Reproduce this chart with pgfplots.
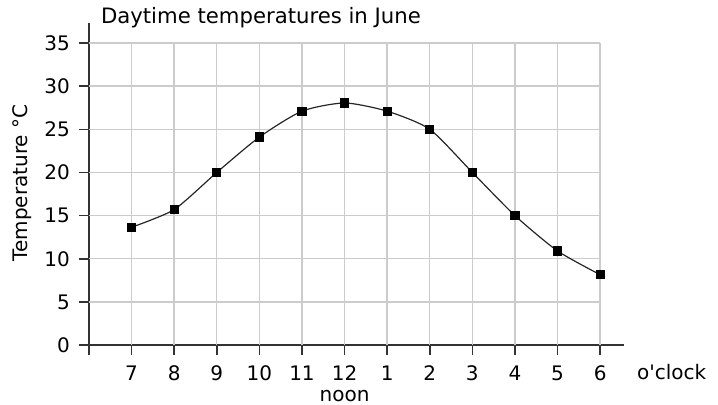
\documentclass[border=0pt]{standalone}
\usepackage{pgfplots}
\pgfplotsset{compat=1.18}
\usepackage{fontspec}
\setmainfont{DejaVu Sans}
\newfontfamily\plainfont{DejaVu Sans}
\definecolor{gridgray}{HTML}{CCCCCC}
\definecolor{axisgray}{HTML}{333333}
\begin{document}
\begin{tikzpicture}[font=\fontsize{10}{12}\selectfont]
\begin{axis}[
  at={(0,0)}, anchor=south west,
  scale only axis,
  width=267.5pt, height=161pt,
  xmin=6, xmax=18.56, ymin=0, ymax=37.32,
  axis lines=left,
  axis line style={axisgray, line width=0.8pt, -},
  xtick={6,...,18},
  xticklabels={,7,8,9,10,11,12,1,2,3,4,5,6},
  ytick={0,5,...,35},
  tick style={axisgray, line width=0.8pt},
  tick align=outside,
  major tick length=5pt,
  /pgf/number format/assume math mode=true,
  xticklabel style={yshift=-2pt},
  yticklabel style={xshift=-1pt},
  clip=false,
]
\pgfplotsinvokeforeach{7,...,18}{
  \draw[gridgray, line width=0.7pt] (axis cs:#1,0) -- (axis cs:#1,35);
}
\pgfplotsinvokeforeach{5,10,...,35}{
  \draw[gridgray, line width=0.7pt] (axis cs:6,#1) -- (axis cs:18,#1);
}
\addplot[black!85, line width=0.6pt, smooth, tension=0.4, mark=square*, mark size=2pt, mark options={black, solid}]
coordinates {
(7,13.65) (8,15.7) (9,20.0) (10,24.1) (11,27.1) (12,28.05)
(13,27.1) (14,25.0) (15,20.0) (16,15.0) (17,10.9) (18,8.15)
};
\node[anchor=north] at (axis cs:12,0) [yshift=-19pt] {noon};
\node[anchor=west] at (axis cs:18.56,0) [yshift=-13.5pt, xshift=3pt] {\plainfont o'clock};
\end{axis}
\node[anchor=west, font=\fontsize{10.6}{12}\selectfont] at (2.5pt,163.5pt) {Daytime temperatures in June};
\node[rotate=90] at (-33.5pt,81pt) {Temperature °C};
\pgfresetboundingbox
\useasboundingbox (-44.5pt,-29.5pt) rectangle (314.5pt,172.5pt);
\end{tikzpicture}
\end{document}
